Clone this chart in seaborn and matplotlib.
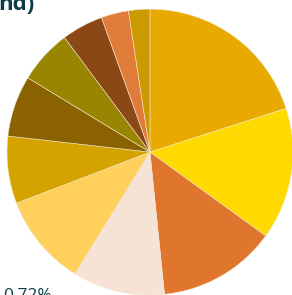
import matplotlib
matplotlib.use("Agg")
import matplotlib.pyplot as plt
import seaborn as sns

# ── Data (clockwise from 12 o'clock) ──
segments = ["A", "B", "C", "D", "E", "F", "G", "H", "I", "J", "K"]
shares = [20.06, 14.9, 13.4, 10.4, 10.4, 7.6, 6.9, 6.1, 4.7, 3.1, 2.4]
slice_colors = ["#E8AA00", "#FEDA00", "#E0762E", "#F7E2D6", "#FFD05C",
                "#D4A300", "#8A6200", "#9A8500", "#8A4817", "#E07B39", "#CC9A00"]

title_tail = "nd)"
corner_label = "0.72%"

sns.set_theme(style="white")
plt.rcParams["font.family"] = ["Open Sans", "DejaVu Sans"]

fig = plt.figure(figsize=(2.92, 2.95), dpi=100)
ax = fig.add_axes([0.024, 0.0, 0.979, 0.969])

palette = sns.color_palette(slice_colors)
ax.pie(shares, colors=palette, startangle=90, counterclock=False,
       wedgeprops=dict(linewidth=0.4, edgecolor="#F3E6C8"))
ax.set_xlim(-1, 1)
ax.set_ylim(-1, 1)
ax.set_aspect("equal")

# text that is cut by the crop of the original chart
fig.text(-0.005, 0.966, title_tail, fontsize=16, fontweight="bold",
         color="#0E3B46", va="baseline", ha="left")
fig.text(0.012, -0.017, corner_label, fontsize=12.5,
         color="#0E3B46", va="baseline", ha="left")

fig.savefig("out.png", dpi=100)
